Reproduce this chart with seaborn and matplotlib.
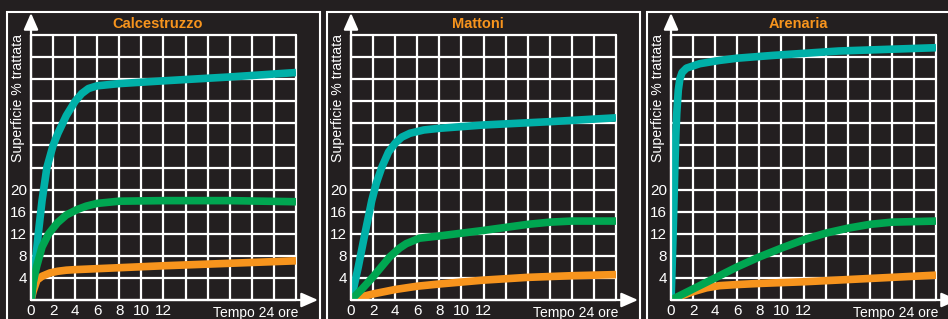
import numpy as np
import pandas as pd
import seaborn as sns
import matplotlib.pyplot as plt
from matplotlib.patches import Rectangle

# colori
SFONDO = "#231f20"
TEAL = "#00b0a8"
VERDE = "#00a651"
ARANCIO = "#f7941d"

# Calcestruzzo (ore, % superficie trattata)
calc_teal_x = [0, 0.36, 0.66, 1.0, 1.44, 2.0, 2.44, 3.2, 4.0, 4.6, 5.2, 6.0, 8, 12, 18, 24]
calc_teal_y = [0, 6, 12, 18, 24, 28, 30.2, 33.4, 36, 37.4, 38.3, 38.8, 39.2, 39.7, 40.4, 41.2]
calc_verde_x = [0, 0.2, 0.5, 1, 1.6, 2.4, 3.2, 4.2, 5, 6, 8, 12, 18, 24]
calc_verde_y = [0, 3.2, 6, 9.6, 12, 14, 15.4, 16.4, 17, 17.5, 17.9, 18, 18, 17.8]
calc_arancio_x = [0, 0.2, 0.54, 1, 1.72, 2.4, 3.2, 4, 12, 24]
calc_arancio_y = [0, 1.6, 3.6, 4.3, 4.9, 5.2, 5.4, 5.5, 6.2, 7.1]

# Mattoni
matt_teal_x = [0, 0.66, 1.26, 1.88, 2.3, 2.78, 3.4, 4, 4.6, 5.34, 6.6, 8, 12, 18, 24]
matt_teal_y = [0, 6, 12, 18, 21.2, 24, 26.8, 28.4, 29.5, 30.2, 30.8, 31.1, 31.7, 32.3, 33]
matt_verde_x = [0, 1, 2, 3.5, 4.4, 5, 6.2, 8, 12, 16, 18, 20, 24]
matt_verde_y = [0, 2, 4.2, 7.8, 9.4, 10.2, 11.2, 11.6, 12.6, 13.7, 14.1, 14.3, 14.3]
matt_arancio_x = [0, 1, 2, 4, 6, 8, 12, 16, 20, 24]
matt_arancio_y = [0, 0.6, 1.1, 1.9, 2.5, 2.9, 3.6, 4.1, 4.4, 4.6]

# Arenaria
aren_teal_x = [0, 0.1, 0.2, 0.28, 0.36, 0.44, 0.52, 0.66, 0.8, 1.0, 1.4, 2.6, 4.4, 6, 9.2, 15.2, 24]
aren_teal_y = [0, 6, 12.8, 18.8, 24.8, 30, 33.8, 38, 40, 41.2, 42, 42.8, 43.4, 43.8, 44.3, 45.1, 45.7]
aren_verde_x = [0, 2, 4, 6, 8, 10, 12, 14, 16, 18, 20, 22, 24]
aren_verde_y = [0, 2, 4, 6, 7.8, 9.4, 10.9, 12.1, 13, 13.7, 14.1, 14.2, 14.3]
aren_arancio_x = [0, 1, 2, 3.2, 4.4, 6, 8, 12, 16, 20, 24]
aren_arancio_y = [0, 0.8, 1.5, 2.2, 2.6, 2.8, 3, 3.3, 3.7, 4.1, 4.5]

materiali = ["Calcestruzzo", "Mattoni", "Arenaria"]
curve = [
    [(calc_arancio_x, calc_arancio_y, ARANCIO), (calc_teal_x, calc_teal_y, TEAL), (calc_verde_x, calc_verde_y, VERDE)],
    [(matt_arancio_x, matt_arancio_y, ARANCIO), (matt_teal_x, matt_teal_y, TEAL), (matt_verde_x, matt_verde_y, VERDE)],
    [(aren_arancio_x, aren_arancio_y, ARANCIO), (aren_teal_x, aren_teal_y, TEAL), (aren_verde_x, aren_verde_y, VERDE)],
]

x_ticks = list(range(0, 25, 2))
x_labels = ["0", "2", "4", "6", "8", "10", "12"] + [""] * 6
y_ticks = list(range(0, 49, 4))
y_labels = ["", "4", "8", "12", "16", "20"] + [""] * 7

sns.set_theme(style="dark", rc={"axes.facecolor": SFONDO, "figure.facecolor": SFONDO})
plt.rcParams["font.family"] = ["Liberation Sans", "DejaVu Sans"]

W, H = 948, 319
fig = plt.figure(figsize=(W / 100, H / 100), dpi=100)

for i, nome in enumerate(materiali):
    off = 320 * i
    # cornice del pannello
    fig.add_artist(Rectangle(((7 + off) / W, -0.1), 313 / W, (H - 12) / H + 0.1,
                             transform=fig.transFigure, fill=False, ec="white", lw=1.5))
    ax = fig.add_axes([(31 + off) / W, (H - 300) / H, 265 / W, 265 / H])
    ax.set_facecolor(SFONDO)

    for xs, ys, col in curve[i]:
        df = pd.DataFrame({"ore": xs, "perc": ys})
        sns.lineplot(data=df, x="ore", y="perc", ax=ax, color=col, lw=5.5,
                     solid_capstyle="butt", solid_joinstyle="round", zorder=3)

    ax.set_xlim(0, 24)
    ax.set_ylim(0, 48)
    ax.set_xticks(x_ticks)
    ax.set_xticklabels(x_labels)
    ax.set_yticks(y_ticks)
    ax.set_yticklabels(y_labels)
    ax.tick_params(length=0, colors="white", labelsize=11)
    ax.tick_params(axis="x", pad=3)
    ax.tick_params(axis="y", pad=3)
    ax.set_xlabel("")
    ax.set_ylabel("")
    ax.grid(True, color="white", lw=1.6)
    for gl in ax.get_xgridlines() + ax.get_ygridlines():
        gl.set_clip_on(False)
    for s in ax.spines.values():
        s.set_visible(False)

    # frecce degli assi
    stile = "-|>,head_length=0.5,head_width=0.22"
    ax.annotate("", xy=(1.083, 0), xytext=(0, 0), xycoords="axes fraction",
                arrowprops=dict(arrowstyle=stile, color="white", lw=1.6,
                                shrinkA=0, shrinkB=0, mutation_scale=20),
                annotation_clip=False)
    ax.annotate("", xy=(0, 1.083), xytext=(0, 0), xycoords="axes fraction",
                arrowprops=dict(arrowstyle=stile, color="white", lw=1.6,
                                shrinkA=0, shrinkB=0, mutation_scale=20),
                annotation_clip=False)

    ax.text(0.479, 1.042, nome, transform=ax.transAxes, ha="center", va="center",
            color=ARANCIO, fontsize=10.5, fontweight="bold")
    ax.text(-0.049, 0.762, "Superficie % trattata", transform=ax.transAxes,
            rotation=90, ha="center", va="center", color="white", fontsize=10.2)
    ax.text(1.008, -0.049, "Tempo 24 ore", transform=ax.transAxes,
            ha="right", va="center", color="white", fontsize=10)

fig.savefig("out.png", dpi=100, facecolor=SFONDO)
